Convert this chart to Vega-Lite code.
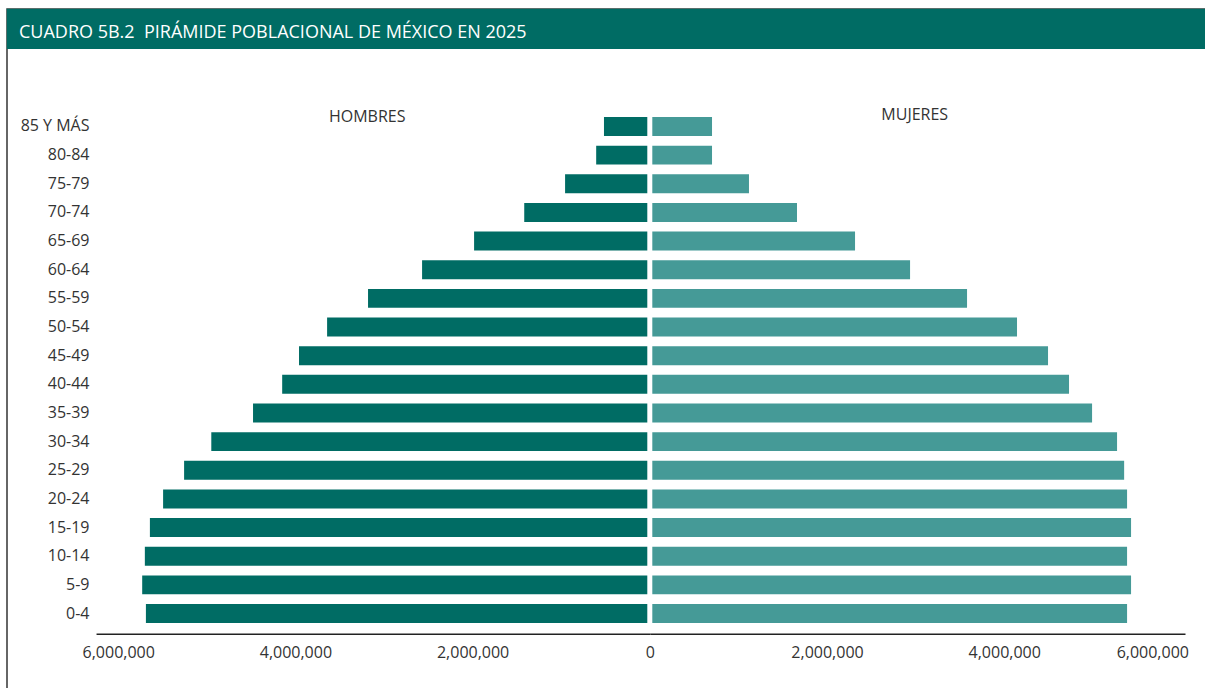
{
  "$schema": "https://vega.github.io/schema/vega-lite/v6.json",
  "padding": {"left": 6, "top": 8, "right": 0, "bottom": 0},
  "background": "white",
  "spacing": 0,
  "bounds": "flush",
  "config": {
    "font": "Open Sans",
    "concat": {"spacing": 0},
    "axis": {"labelFont": "Open Sans", "labelColor": "#333333", "grid": false}
  },
  "datasets": {
    "piramide": [
      {"edad": "0-4", "sexo": "Hombres", "poblacion": 5659000},
      {"edad": "5-9", "sexo": "Hombres", "poblacion": 5701000},
      {"edad": "10-14", "sexo": "Hombres", "poblacion": 5671000},
      {"edad": "15-19", "sexo": "Hombres", "poblacion": 5614000},
      {"edad": "20-24", "sexo": "Hombres", "poblacion": 5465000},
      {"edad": "25-29", "sexo": "Hombres", "poblacion": 5228000},
      {"edad": "30-34", "sexo": "Hombres", "poblacion": 4921000},
      {"edad": "35-39", "sexo": "Hombres", "poblacion": 4450000},
      {"edad": "40-44", "sexo": "Hombres", "poblacion": 4121000},
      {"edad": "45-49", "sexo": "Hombres", "poblacion": 3931000},
      {"edad": "50-54", "sexo": "Hombres", "poblacion": 3614000},
      {"edad": "55-59", "sexo": "Hombres", "poblacion": 3152000},
      {"edad": "60-64", "sexo": "Hombres", "poblacion": 2542000},
      {"edad": "65-69", "sexo": "Hombres", "poblacion": 1955000},
      {"edad": "70-74", "sexo": "Hombres", "poblacion": 1389000},
      {"edad": "75-79", "sexo": "Hombres", "poblacion": 928000},
      {"edad": "80-84", "sexo": "Hombres", "poblacion": 577000},
      {"edad": "85 Y MÁS", "sexo": "Hombres", "poblacion": 489000},
      {"edad": "0-4", "sexo": "Mujeres", "poblacion": 5358000},
      {"edad": "5-9", "sexo": "Mujeres", "poblacion": 5403000},
      {"edad": "10-14", "sexo": "Mujeres", "poblacion": 5358000},
      {"edad": "15-19", "sexo": "Mujeres", "poblacion": 5403000},
      {"edad": "20-24", "sexo": "Mujeres", "poblacion": 5358000},
      {"edad": "25-29", "sexo": "Mujeres", "poblacion": 5325000},
      {"edad": "30-34", "sexo": "Mujeres", "poblacion": 5245000},
      {"edad": "35-39", "sexo": "Mujeres", "poblacion": 4963000},
      {"edad": "40-44", "sexo": "Mujeres", "poblacion": 4703000},
      {"edad": "45-49", "sexo": "Mujeres", "poblacion": 4466000},
      {"edad": "50-54", "sexo": "Mujeres", "poblacion": 4116000},
      {"edad": "55-59", "sexo": "Mujeres", "poblacion": 3552000},
      {"edad": "60-64", "sexo": "Mujeres", "poblacion": 2909000},
      {"edad": "65-69", "sexo": "Mujeres", "poblacion": 2288000},
      {"edad": "70-74", "sexo": "Mujeres", "poblacion": 1633000},
      {"edad": "75-79", "sexo": "Mujeres", "poblacion": 1091000},
      {"edad": "80-84", "sexo": "Mujeres", "poblacion": 674000},
      {"edad": "85 Y MÁS", "sexo": "Mujeres", "poblacion": 674000}
    ]
  },
  "vconcat": [
    {
      "width": 1198,
      "height": 40,
      "view": {"fill": "#006c64", "stroke": "#23403d", "strokeWidth": 1.5, "strokeDash": [1198, 1238, 40]},
      "title": {
        "text": "CUADRO 5B.2\u00a0\u00a0PIRÁMIDE POBLACIONAL DE MÉXICO EN 2025",
        "anchor": "start",
        "frame": "group",
        "orient": "top",
        "offset": -30,
        "dx": 12,
        "dy": 17,
        "baseline": "alphabetic",
        "color": "#ffffff",
        "font": "Open Sans",
        "fontSize": 18,
        "fontWeight": "normal"
      },
      "data": {"values": [{}]},
      "mark": {"type": "rect", "fill": "#006c64", "strokeWidth": 0},
      "encoding": {}
    },
    {
      "width": 1198,
      "height": 639,
      "view": {"fill": null, "stroke": "#333333", "strokeWidth": 1.5, "strokeDash": [639, 3035], "strokeDashOffset": 639},
      "data": {"name": "piramide"},
      "encoding": {
        "y": {
          "field": "edad",
          "type": "nominal",
          "scale": {
            "domain": ["85 Y MÁS", "80-84", "75-79", "70-74", "65-69", "60-64", "55-59", "50-54", "45-49", "40-44", "35-39", "30-34", "25-29", "20-24", "15-19", "10-14", "5-9", "0-4"],
            "range": [57.5, 584.5],
            "paddingInner": 0.338,
            "paddingOuter": 0.366
          },
          "axis": {
            "orient": "left",
            "offset": -88,
            "title": null,
            "domain": false,
            "ticks": false,
            "tickSize": 0,
            "labelPadding": 6,
            "labelAlign": "right",
            "labelFontSize": 16,
            "labelColor": "#333333"
          }
        }
      },
      "layer": [
        {
          "layer": [
            {
              "transform": [{"filter": "datum.sexo === 'Hombres'"}],
              "mark": {"type": "bar", "color": "#006c64", "xOffset": -2.5, "x2Offset": -2.5},
              "encoding": {
                "x": {
                  "field": "poblacion",
                  "type": "quantitative",
                  "stack": null,
                  "scale": {"domain": [0, 6250000], "range": [642.8, 89.05], "nice": false, "zero": true},
                  "axis": {
                    "orient": "bottom",
                    "offset": -54.3,
                    "title": null,
                    "values": [0, 2000000, 4000000, 6000000],
                    "format": ",.0f",
                    "domainColor": "#222222",
                    "domainWidth": 1.5,
                    "ticks": false,
                    "tickSize": 0,
                    "labelPadding": 11,
                    "labelFontSize": 16,
                    "labelColor": "#333333",
                    "labelFlush": false
                  }
                },
                "x2": {"datum": 0}
              }
            },
            {
              "data": {"values": [{"rotulo": "HOMBRES", "edad": "85 Y MÁS"}]},
              "mark": {"type": "text", "baseline": "middle", "align": "center", "dy": -9, "fontSize": 16, "color": "#333333"},
              "encoding": {
                "x": {"datum": 3190000, "type": "quantitative"},
                "text": {"field": "rotulo"}
              }
            }
          ]
        },
        {
          "layer": [
            {
              "transform": [{"filter": "datum.sexo === 'Mujeres'"}],
              "mark": {"type": "bar", "color": "#459a97", "xOffset": 2.5, "x2Offset": 2.5},
              "encoding": {
                "x": {
                  "field": "poblacion",
                  "type": "quantitative",
                  "stack": null,
                  "scale": {"domain": [0, 6040000], "range": [642.8, 1178], "nice": false, "zero": true},
                  "axis": {
                    "orient": "bottom",
                    "offset": -54.3,
                    "title": null,
                    "values": [2000000, 4000000, 6000000],
                    "format": ",.0f",
                    "domainColor": "#222222",
                    "domainWidth": 1.5,
                    "ticks": false,
                    "tickSize": 0,
                    "labelPadding": 11,
                    "labelFontSize": 16,
                    "labelColor": "#333333",
                    "labelFlush": 10,
                    "labelFlushOffset": 7
                  }
                },
                "x2": {"datum": 0}
              }
            },
            {
              "data": {"values": [{"rotulo": "MUJERES", "edad": "85 Y MÁS"}]},
              "mark": {"type": "text", "baseline": "middle", "align": "center", "dy": -11.5, "fontSize": 16, "color": "#333333"},
              "encoding": {
                "x": {"datum": 2990000, "type": "quantitative"},
                "text": {"field": "rotulo"}
              }
            }
          ]
        }
      ],
      "resolve": {"scale": {"x": "independent"}, "axis": {"x": "independent"}}
    }
  ]
}
